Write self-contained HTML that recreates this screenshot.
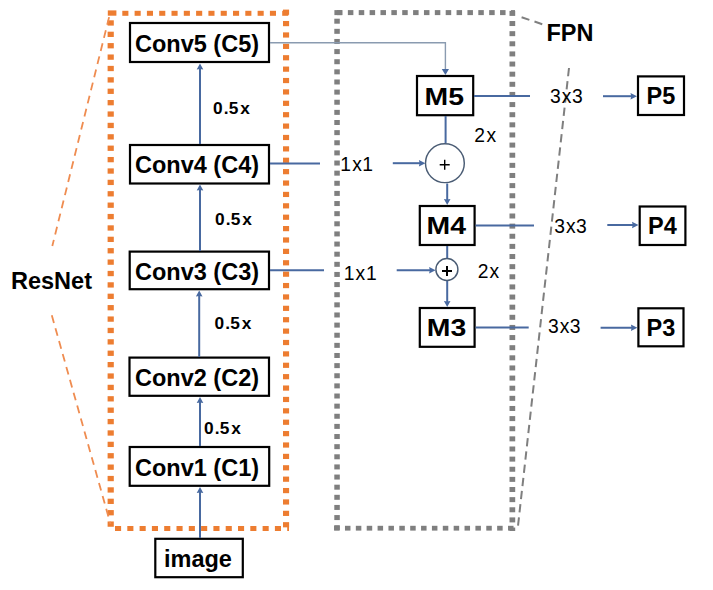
<!DOCTYPE html>
<html><head><meta charset="utf-8"><style>
html,body{margin:0;padding:0;background:#fff;width:713px;height:590px;overflow:hidden}
svg{display:block}
text{font-family:"Liberation Sans",sans-serif;fill:#000}
</style></head><body>
<svg width="713" height="590" viewBox="0 0 713 590">
<rect x="122.30" y="10.80" width="6.10" height="5.00" fill="#ed7d31"/>
<rect x="134.60" y="10.80" width="6.10" height="5.00" fill="#ed7d31"/>
<rect x="146.90" y="10.80" width="6.10" height="5.00" fill="#ed7d31"/>
<rect x="159.20" y="10.80" width="6.10" height="5.00" fill="#ed7d31"/>
<rect x="171.50" y="10.80" width="6.10" height="5.00" fill="#ed7d31"/>
<rect x="183.80" y="10.80" width="6.10" height="5.00" fill="#ed7d31"/>
<rect x="196.10" y="10.80" width="6.10" height="5.00" fill="#ed7d31"/>
<rect x="208.40" y="10.80" width="6.10" height="5.00" fill="#ed7d31"/>
<rect x="220.70" y="10.80" width="6.10" height="5.00" fill="#ed7d31"/>
<rect x="233.00" y="10.80" width="6.10" height="5.00" fill="#ed7d31"/>
<rect x="245.30" y="10.80" width="6.10" height="5.00" fill="#ed7d31"/>
<rect x="257.60" y="10.80" width="6.10" height="5.00" fill="#ed7d31"/>
<rect x="269.90" y="10.80" width="6.10" height="5.00" fill="#ed7d31"/>
<rect x="282.20" y="10.80" width="6.10" height="5.00" fill="#ed7d31"/>
<rect x="115.00" y="526.00" width="6.10" height="5.00" fill="#ed7d31"/>
<rect x="127.30" y="526.00" width="6.10" height="5.00" fill="#ed7d31"/>
<rect x="139.60" y="526.00" width="6.10" height="5.00" fill="#ed7d31"/>
<rect x="151.90" y="526.00" width="6.10" height="5.00" fill="#ed7d31"/>
<rect x="164.20" y="526.00" width="6.10" height="5.00" fill="#ed7d31"/>
<rect x="176.50" y="526.00" width="6.10" height="5.00" fill="#ed7d31"/>
<rect x="188.80" y="526.00" width="6.10" height="5.00" fill="#ed7d31"/>
<rect x="201.10" y="526.00" width="6.10" height="5.00" fill="#ed7d31"/>
<rect x="213.40" y="526.00" width="6.10" height="5.00" fill="#ed7d31"/>
<rect x="225.70" y="526.00" width="6.10" height="5.00" fill="#ed7d31"/>
<rect x="238.00" y="526.00" width="6.10" height="5.00" fill="#ed7d31"/>
<rect x="250.30" y="526.00" width="6.10" height="5.00" fill="#ed7d31"/>
<rect x="262.60" y="526.00" width="6.10" height="5.00" fill="#ed7d31"/>
<rect x="274.90" y="526.00" width="6.10" height="5.00" fill="#ed7d31"/>
<rect x="287.20" y="526.00" width="1.80" height="5.00" fill="#ed7d31"/>
<rect x="107.60" y="20.30" width="6.20" height="5.30" fill="#ed7d31"/>
<rect x="107.60" y="31.69" width="6.20" height="5.30" fill="#ed7d31"/>
<rect x="107.60" y="43.08" width="6.20" height="5.30" fill="#ed7d31"/>
<rect x="107.60" y="54.47" width="6.20" height="5.30" fill="#ed7d31"/>
<rect x="107.60" y="65.86" width="6.20" height="5.30" fill="#ed7d31"/>
<rect x="107.60" y="77.25" width="6.20" height="5.30" fill="#ed7d31"/>
<rect x="107.60" y="88.64" width="6.20" height="5.30" fill="#ed7d31"/>
<rect x="107.60" y="100.03" width="6.20" height="5.30" fill="#ed7d31"/>
<rect x="107.60" y="111.42" width="6.20" height="5.30" fill="#ed7d31"/>
<rect x="107.60" y="122.81" width="6.20" height="5.30" fill="#ed7d31"/>
<rect x="107.60" y="134.20" width="6.20" height="5.30" fill="#ed7d31"/>
<rect x="107.60" y="145.59" width="6.20" height="5.30" fill="#ed7d31"/>
<rect x="107.60" y="156.98" width="6.20" height="5.30" fill="#ed7d31"/>
<rect x="107.60" y="168.37" width="6.20" height="5.30" fill="#ed7d31"/>
<rect x="107.60" y="179.76" width="6.20" height="5.30" fill="#ed7d31"/>
<rect x="107.60" y="191.15" width="6.20" height="5.30" fill="#ed7d31"/>
<rect x="107.60" y="202.54" width="6.20" height="5.30" fill="#ed7d31"/>
<rect x="107.60" y="213.93" width="6.20" height="5.30" fill="#ed7d31"/>
<rect x="107.60" y="225.32" width="6.20" height="5.30" fill="#ed7d31"/>
<rect x="107.60" y="236.71" width="6.20" height="5.30" fill="#ed7d31"/>
<rect x="107.60" y="248.10" width="6.20" height="5.30" fill="#ed7d31"/>
<rect x="107.60" y="259.49" width="6.20" height="5.30" fill="#ed7d31"/>
<rect x="107.60" y="270.88" width="6.20" height="5.30" fill="#ed7d31"/>
<rect x="107.60" y="282.27" width="6.20" height="5.30" fill="#ed7d31"/>
<rect x="107.60" y="293.66" width="6.20" height="5.30" fill="#ed7d31"/>
<rect x="107.60" y="305.05" width="6.20" height="5.30" fill="#ed7d31"/>
<rect x="107.60" y="316.44" width="6.20" height="5.30" fill="#ed7d31"/>
<rect x="107.60" y="327.83" width="6.20" height="5.30" fill="#ed7d31"/>
<rect x="107.60" y="339.22" width="6.20" height="5.30" fill="#ed7d31"/>
<rect x="107.60" y="350.61" width="6.20" height="5.30" fill="#ed7d31"/>
<rect x="107.60" y="362.00" width="6.20" height="5.30" fill="#ed7d31"/>
<rect x="107.60" y="373.39" width="6.20" height="5.30" fill="#ed7d31"/>
<rect x="107.60" y="384.78" width="6.20" height="5.30" fill="#ed7d31"/>
<rect x="107.60" y="396.17" width="6.20" height="5.30" fill="#ed7d31"/>
<rect x="107.60" y="407.56" width="6.20" height="5.30" fill="#ed7d31"/>
<rect x="107.60" y="418.95" width="6.20" height="5.30" fill="#ed7d31"/>
<rect x="107.60" y="430.34" width="6.20" height="5.30" fill="#ed7d31"/>
<rect x="107.60" y="441.73" width="6.20" height="5.30" fill="#ed7d31"/>
<rect x="107.60" y="453.12" width="6.20" height="5.30" fill="#ed7d31"/>
<rect x="107.60" y="464.51" width="6.20" height="5.30" fill="#ed7d31"/>
<rect x="107.60" y="475.90" width="6.20" height="5.30" fill="#ed7d31"/>
<rect x="107.60" y="487.29" width="6.20" height="5.30" fill="#ed7d31"/>
<rect x="107.60" y="498.68" width="6.20" height="5.30" fill="#ed7d31"/>
<rect x="107.60" y="510.07" width="6.20" height="5.30" fill="#ed7d31"/>
<rect x="107.60" y="521.46" width="6.20" height="5.30" fill="#ed7d31"/>
<rect x="107.8" y="10.4" width="8.6" height="5.3" fill="#ed7d31"/>
<rect x="283.00" y="9.60" width="6.10" height="5.20" fill="#ed7d31"/>
<rect x="283.00" y="20.99" width="6.10" height="5.20" fill="#ed7d31"/>
<rect x="283.00" y="32.38" width="6.10" height="5.20" fill="#ed7d31"/>
<rect x="283.00" y="43.77" width="6.10" height="5.20" fill="#ed7d31"/>
<rect x="283.00" y="55.16" width="6.10" height="5.20" fill="#ed7d31"/>
<rect x="283.00" y="66.55" width="6.10" height="5.20" fill="#ed7d31"/>
<rect x="283.00" y="77.94" width="6.10" height="5.20" fill="#ed7d31"/>
<rect x="283.00" y="89.33" width="6.10" height="5.20" fill="#ed7d31"/>
<rect x="283.00" y="100.72" width="6.10" height="5.20" fill="#ed7d31"/>
<rect x="283.00" y="112.11" width="6.10" height="5.20" fill="#ed7d31"/>
<rect x="283.00" y="123.50" width="6.10" height="5.20" fill="#ed7d31"/>
<rect x="283.00" y="134.89" width="6.10" height="5.20" fill="#ed7d31"/>
<rect x="283.00" y="146.28" width="6.10" height="5.20" fill="#ed7d31"/>
<rect x="283.00" y="157.67" width="6.10" height="5.20" fill="#ed7d31"/>
<rect x="283.00" y="169.06" width="6.10" height="5.20" fill="#ed7d31"/>
<rect x="283.00" y="180.45" width="6.10" height="5.20" fill="#ed7d31"/>
<rect x="283.00" y="191.84" width="6.10" height="5.20" fill="#ed7d31"/>
<rect x="283.00" y="203.23" width="6.10" height="5.20" fill="#ed7d31"/>
<rect x="283.00" y="214.62" width="6.10" height="5.20" fill="#ed7d31"/>
<rect x="283.00" y="226.01" width="6.10" height="5.20" fill="#ed7d31"/>
<rect x="283.00" y="237.40" width="6.10" height="5.20" fill="#ed7d31"/>
<rect x="283.00" y="248.79" width="6.10" height="5.20" fill="#ed7d31"/>
<rect x="283.00" y="260.18" width="6.10" height="5.20" fill="#ed7d31"/>
<rect x="283.00" y="271.57" width="6.10" height="5.20" fill="#ed7d31"/>
<rect x="283.00" y="282.96" width="6.10" height="5.20" fill="#ed7d31"/>
<rect x="283.00" y="294.35" width="6.10" height="5.20" fill="#ed7d31"/>
<rect x="283.00" y="305.74" width="6.10" height="5.20" fill="#ed7d31"/>
<rect x="283.00" y="317.13" width="6.10" height="5.20" fill="#ed7d31"/>
<rect x="283.00" y="328.52" width="6.10" height="5.20" fill="#ed7d31"/>
<rect x="283.00" y="339.91" width="6.10" height="5.20" fill="#ed7d31"/>
<rect x="283.00" y="351.30" width="6.10" height="5.20" fill="#ed7d31"/>
<rect x="283.00" y="362.69" width="6.10" height="5.20" fill="#ed7d31"/>
<rect x="283.00" y="374.08" width="6.10" height="5.20" fill="#ed7d31"/>
<rect x="283.00" y="385.47" width="6.10" height="5.20" fill="#ed7d31"/>
<rect x="283.00" y="396.86" width="6.10" height="5.20" fill="#ed7d31"/>
<rect x="283.00" y="408.25" width="6.10" height="5.20" fill="#ed7d31"/>
<rect x="283.00" y="419.64" width="6.10" height="5.20" fill="#ed7d31"/>
<rect x="283.00" y="431.03" width="6.10" height="5.20" fill="#ed7d31"/>
<rect x="283.00" y="442.42" width="6.10" height="5.20" fill="#ed7d31"/>
<rect x="283.00" y="453.81" width="6.10" height="5.20" fill="#ed7d31"/>
<rect x="283.00" y="465.20" width="6.10" height="5.20" fill="#ed7d31"/>
<rect x="283.00" y="476.59" width="6.10" height="5.20" fill="#ed7d31"/>
<rect x="283.00" y="487.98" width="6.10" height="5.20" fill="#ed7d31"/>
<rect x="283.00" y="499.37" width="6.10" height="5.20" fill="#ed7d31"/>
<rect x="283.00" y="510.76" width="6.10" height="5.20" fill="#ed7d31"/>
<rect x="283.00" y="522.15" width="6.10" height="5.20" fill="#ed7d31"/>
<rect x="337.00" y="10.10" width="5.50" height="5.00" fill="#7f7f7f"/>
<rect x="347.87" y="10.10" width="5.50" height="5.00" fill="#7f7f7f"/>
<rect x="358.74" y="10.10" width="5.50" height="5.00" fill="#7f7f7f"/>
<rect x="369.61" y="10.10" width="5.50" height="5.00" fill="#7f7f7f"/>
<rect x="380.48" y="10.10" width="5.50" height="5.00" fill="#7f7f7f"/>
<rect x="391.35" y="10.10" width="5.50" height="5.00" fill="#7f7f7f"/>
<rect x="402.22" y="10.10" width="5.50" height="5.00" fill="#7f7f7f"/>
<rect x="413.09" y="10.10" width="5.50" height="5.00" fill="#7f7f7f"/>
<rect x="423.96" y="10.10" width="5.50" height="5.00" fill="#7f7f7f"/>
<rect x="434.83" y="10.10" width="5.50" height="5.00" fill="#7f7f7f"/>
<rect x="445.70" y="10.10" width="5.50" height="5.00" fill="#7f7f7f"/>
<rect x="456.57" y="10.10" width="5.50" height="5.00" fill="#7f7f7f"/>
<rect x="467.44" y="10.10" width="5.50" height="5.00" fill="#7f7f7f"/>
<rect x="478.31" y="10.10" width="5.50" height="5.00" fill="#7f7f7f"/>
<rect x="489.18" y="10.10" width="5.50" height="5.00" fill="#7f7f7f"/>
<rect x="500.05" y="10.10" width="5.50" height="5.00" fill="#7f7f7f"/>
<rect x="510.92" y="10.10" width="4.08" height="5.00" fill="#7f7f7f"/>
<rect x="334.10" y="525.80" width="5.50" height="4.80" fill="#7f7f7f"/>
<rect x="344.97" y="525.80" width="5.50" height="4.80" fill="#7f7f7f"/>
<rect x="355.84" y="525.80" width="5.50" height="4.80" fill="#7f7f7f"/>
<rect x="366.71" y="525.80" width="5.50" height="4.80" fill="#7f7f7f"/>
<rect x="377.58" y="525.80" width="5.50" height="4.80" fill="#7f7f7f"/>
<rect x="388.45" y="525.80" width="5.50" height="4.80" fill="#7f7f7f"/>
<rect x="399.32" y="525.80" width="5.50" height="4.80" fill="#7f7f7f"/>
<rect x="410.19" y="525.80" width="5.50" height="4.80" fill="#7f7f7f"/>
<rect x="421.06" y="525.80" width="5.50" height="4.80" fill="#7f7f7f"/>
<rect x="431.93" y="525.80" width="5.50" height="4.80" fill="#7f7f7f"/>
<rect x="442.80" y="525.80" width="5.50" height="4.80" fill="#7f7f7f"/>
<rect x="453.67" y="525.80" width="5.50" height="4.80" fill="#7f7f7f"/>
<rect x="464.54" y="525.80" width="5.50" height="4.80" fill="#7f7f7f"/>
<rect x="475.41" y="525.80" width="5.50" height="4.80" fill="#7f7f7f"/>
<rect x="486.28" y="525.80" width="5.50" height="4.80" fill="#7f7f7f"/>
<rect x="497.15" y="525.80" width="5.50" height="4.80" fill="#7f7f7f"/>
<rect x="508.02" y="525.80" width="5.50" height="4.80" fill="#7f7f7f"/>
<rect x="334.30" y="18.70" width="5.50" height="5.00" fill="#7f7f7f"/>
<rect x="334.30" y="28.83" width="5.50" height="5.00" fill="#7f7f7f"/>
<rect x="334.30" y="38.96" width="5.50" height="5.00" fill="#7f7f7f"/>
<rect x="334.30" y="49.09" width="5.50" height="5.00" fill="#7f7f7f"/>
<rect x="334.30" y="59.22" width="5.50" height="5.00" fill="#7f7f7f"/>
<rect x="334.30" y="69.35" width="5.50" height="5.00" fill="#7f7f7f"/>
<rect x="334.30" y="79.48" width="5.50" height="5.00" fill="#7f7f7f"/>
<rect x="334.30" y="89.61" width="5.50" height="5.00" fill="#7f7f7f"/>
<rect x="334.30" y="99.74" width="5.50" height="5.00" fill="#7f7f7f"/>
<rect x="334.30" y="109.87" width="5.50" height="5.00" fill="#7f7f7f"/>
<rect x="334.30" y="120.00" width="5.50" height="5.00" fill="#7f7f7f"/>
<rect x="334.30" y="130.13" width="5.50" height="5.00" fill="#7f7f7f"/>
<rect x="334.30" y="140.26" width="5.50" height="5.00" fill="#7f7f7f"/>
<rect x="334.30" y="150.39" width="5.50" height="5.00" fill="#7f7f7f"/>
<rect x="334.30" y="160.52" width="5.50" height="5.00" fill="#7f7f7f"/>
<rect x="334.30" y="170.65" width="5.50" height="5.00" fill="#7f7f7f"/>
<rect x="334.30" y="180.78" width="5.50" height="5.00" fill="#7f7f7f"/>
<rect x="334.30" y="190.91" width="5.50" height="5.00" fill="#7f7f7f"/>
<rect x="334.30" y="201.04" width="5.50" height="5.00" fill="#7f7f7f"/>
<rect x="334.30" y="211.17" width="5.50" height="5.00" fill="#7f7f7f"/>
<rect x="334.30" y="221.30" width="5.50" height="5.00" fill="#7f7f7f"/>
<rect x="334.30" y="231.43" width="5.50" height="5.00" fill="#7f7f7f"/>
<rect x="334.30" y="241.56" width="5.50" height="5.00" fill="#7f7f7f"/>
<rect x="334.30" y="251.69" width="5.50" height="5.00" fill="#7f7f7f"/>
<rect x="334.30" y="261.82" width="5.50" height="5.00" fill="#7f7f7f"/>
<rect x="334.30" y="271.95" width="5.50" height="5.00" fill="#7f7f7f"/>
<rect x="334.30" y="282.08" width="5.50" height="5.00" fill="#7f7f7f"/>
<rect x="334.30" y="292.21" width="5.50" height="5.00" fill="#7f7f7f"/>
<rect x="334.30" y="302.34" width="5.50" height="5.00" fill="#7f7f7f"/>
<rect x="334.30" y="312.47" width="5.50" height="5.00" fill="#7f7f7f"/>
<rect x="334.30" y="322.60" width="5.50" height="5.00" fill="#7f7f7f"/>
<rect x="334.30" y="332.73" width="5.50" height="5.00" fill="#7f7f7f"/>
<rect x="334.30" y="342.86" width="5.50" height="5.00" fill="#7f7f7f"/>
<rect x="334.30" y="352.99" width="5.50" height="5.00" fill="#7f7f7f"/>
<rect x="334.30" y="363.12" width="5.50" height="5.00" fill="#7f7f7f"/>
<rect x="334.30" y="373.25" width="5.50" height="5.00" fill="#7f7f7f"/>
<rect x="334.30" y="383.38" width="5.50" height="5.00" fill="#7f7f7f"/>
<rect x="334.30" y="393.51" width="5.50" height="5.00" fill="#7f7f7f"/>
<rect x="334.30" y="403.64" width="5.50" height="5.00" fill="#7f7f7f"/>
<rect x="334.30" y="413.77" width="5.50" height="5.00" fill="#7f7f7f"/>
<rect x="334.30" y="423.90" width="5.50" height="5.00" fill="#7f7f7f"/>
<rect x="334.30" y="434.03" width="5.50" height="5.00" fill="#7f7f7f"/>
<rect x="334.30" y="444.16" width="5.50" height="5.00" fill="#7f7f7f"/>
<rect x="334.30" y="454.29" width="5.50" height="5.00" fill="#7f7f7f"/>
<rect x="334.30" y="464.42" width="5.50" height="5.00" fill="#7f7f7f"/>
<rect x="334.30" y="474.55" width="5.50" height="5.00" fill="#7f7f7f"/>
<rect x="334.30" y="484.68" width="5.50" height="5.00" fill="#7f7f7f"/>
<rect x="334.30" y="494.81" width="5.50" height="5.00" fill="#7f7f7f"/>
<rect x="334.30" y="504.94" width="5.50" height="5.00" fill="#7f7f7f"/>
<rect x="334.30" y="515.07" width="5.50" height="5.00" fill="#7f7f7f"/>
<rect x="334.30" y="525.20" width="5.50" height="5.00" fill="#7f7f7f"/>
<rect x="334.4" y="10.1" width="7.5" height="5" fill="#7f7f7f"/>
<rect x="509.50" y="10.90" width="5.70" height="5.00" fill="#7f7f7f"/>
<rect x="509.50" y="21.03" width="5.70" height="5.00" fill="#7f7f7f"/>
<rect x="509.50" y="31.16" width="5.70" height="5.00" fill="#7f7f7f"/>
<rect x="509.50" y="41.29" width="5.70" height="5.00" fill="#7f7f7f"/>
<rect x="509.50" y="51.42" width="5.70" height="5.00" fill="#7f7f7f"/>
<rect x="509.50" y="61.55" width="5.70" height="5.00" fill="#7f7f7f"/>
<rect x="509.50" y="71.68" width="5.70" height="5.00" fill="#7f7f7f"/>
<rect x="509.50" y="81.81" width="5.70" height="5.00" fill="#7f7f7f"/>
<rect x="509.50" y="91.94" width="5.70" height="5.00" fill="#7f7f7f"/>
<rect x="509.50" y="102.07" width="5.70" height="5.00" fill="#7f7f7f"/>
<rect x="509.50" y="112.20" width="5.70" height="5.00" fill="#7f7f7f"/>
<rect x="509.50" y="122.33" width="5.70" height="5.00" fill="#7f7f7f"/>
<rect x="509.50" y="132.46" width="5.70" height="5.00" fill="#7f7f7f"/>
<rect x="509.50" y="142.59" width="5.70" height="5.00" fill="#7f7f7f"/>
<rect x="509.50" y="152.72" width="5.70" height="5.00" fill="#7f7f7f"/>
<rect x="509.50" y="162.85" width="5.70" height="5.00" fill="#7f7f7f"/>
<rect x="509.50" y="172.98" width="5.70" height="5.00" fill="#7f7f7f"/>
<rect x="509.50" y="183.11" width="5.70" height="5.00" fill="#7f7f7f"/>
<rect x="509.50" y="193.24" width="5.70" height="5.00" fill="#7f7f7f"/>
<rect x="509.50" y="203.37" width="5.70" height="5.00" fill="#7f7f7f"/>
<rect x="509.50" y="213.50" width="5.70" height="5.00" fill="#7f7f7f"/>
<rect x="509.50" y="223.63" width="5.70" height="5.00" fill="#7f7f7f"/>
<rect x="509.50" y="233.76" width="5.70" height="5.00" fill="#7f7f7f"/>
<rect x="509.50" y="243.89" width="5.70" height="5.00" fill="#7f7f7f"/>
<rect x="509.50" y="254.02" width="5.70" height="5.00" fill="#7f7f7f"/>
<rect x="509.50" y="264.15" width="5.70" height="5.00" fill="#7f7f7f"/>
<rect x="509.50" y="274.28" width="5.70" height="5.00" fill="#7f7f7f"/>
<rect x="509.50" y="284.41" width="5.70" height="5.00" fill="#7f7f7f"/>
<rect x="509.50" y="294.54" width="5.70" height="5.00" fill="#7f7f7f"/>
<rect x="509.50" y="304.67" width="5.70" height="5.00" fill="#7f7f7f"/>
<rect x="509.50" y="314.80" width="5.70" height="5.00" fill="#7f7f7f"/>
<rect x="509.50" y="324.93" width="5.70" height="5.00" fill="#7f7f7f"/>
<rect x="509.50" y="335.06" width="5.70" height="5.00" fill="#7f7f7f"/>
<rect x="509.50" y="345.19" width="5.70" height="5.00" fill="#7f7f7f"/>
<rect x="509.50" y="355.32" width="5.70" height="5.00" fill="#7f7f7f"/>
<rect x="509.50" y="365.45" width="5.70" height="5.00" fill="#7f7f7f"/>
<rect x="509.50" y="375.58" width="5.70" height="5.00" fill="#7f7f7f"/>
<rect x="509.50" y="385.71" width="5.70" height="5.00" fill="#7f7f7f"/>
<rect x="509.50" y="395.84" width="5.70" height="5.00" fill="#7f7f7f"/>
<rect x="509.50" y="405.97" width="5.70" height="5.00" fill="#7f7f7f"/>
<rect x="509.50" y="416.10" width="5.70" height="5.00" fill="#7f7f7f"/>
<rect x="509.50" y="426.23" width="5.70" height="5.00" fill="#7f7f7f"/>
<rect x="509.50" y="436.36" width="5.70" height="5.00" fill="#7f7f7f"/>
<rect x="509.50" y="446.49" width="5.70" height="5.00" fill="#7f7f7f"/>
<rect x="509.50" y="456.62" width="5.70" height="5.00" fill="#7f7f7f"/>
<rect x="509.50" y="466.75" width="5.70" height="5.00" fill="#7f7f7f"/>
<rect x="509.50" y="476.88" width="5.70" height="5.00" fill="#7f7f7f"/>
<rect x="509.50" y="487.01" width="5.70" height="5.00" fill="#7f7f7f"/>
<rect x="509.50" y="497.14" width="5.70" height="5.00" fill="#7f7f7f"/>
<rect x="509.50" y="507.27" width="5.70" height="5.00" fill="#7f7f7f"/>
<rect x="509.50" y="517.40" width="5.70" height="5.00" fill="#7f7f7f"/>
<rect x="509.50" y="527.53" width="5.70" height="3.47" fill="#7f7f7f"/>
<line x1="109.1" y1="17.1" x2="52.3" y2="246" stroke="#ef8c50" stroke-width="1.8" stroke-dasharray="7.9 5.6"/>
<line x1="51.8" y1="315.3" x2="110.5" y2="524" stroke="#ef8c50" stroke-width="1.8" stroke-dasharray="7.9 5.5"/>
<line x1="521.6" y1="17.2" x2="543.5" y2="24.6" stroke="#7f7f7f" stroke-width="2" stroke-dasharray="8.2 5.4"/>
<line x1="569" y1="68" x2="518" y2="526" stroke="#7f7f7f" stroke-width="2" stroke-dasharray="8.3 5"/>
<rect x="130.00" y="23.00" width="139.00" height="39.00" fill="#fff" stroke="#000" stroke-width="2.2"/>
<rect x="130.00" y="145.00" width="139.00" height="38.50" fill="#fff" stroke="#000" stroke-width="2.2"/>
<rect x="129.70" y="251.60" width="139.30" height="37.60" fill="#fff" stroke="#000" stroke-width="2.2"/>
<rect x="129.50" y="357.60" width="139.50" height="38.20" fill="#fff" stroke="#000" stroke-width="2.2"/>
<rect x="129.70" y="447.00" width="139.50" height="38.80" fill="#fff" stroke="#000" stroke-width="2.2"/>
<rect x="155.30" y="538.80" width="87.50" height="38.40" fill="#fff" stroke="#000" stroke-width="2.2"/>
<rect x="417.00" y="76.00" width="56.20" height="39.20" fill="#fff" stroke="#000" stroke-width="2.2"/>
<rect x="419.80" y="206.00" width="54.80" height="39.00" fill="#fff" stroke="#000" stroke-width="2.2"/>
<rect x="419.80" y="308.00" width="54.80" height="38.80" fill="#fff" stroke="#000" stroke-width="2.2"/>
<rect x="638.00" y="76.40" width="46.00" height="38.60" fill="#fff" stroke="#000" stroke-width="2.2"/>
<rect x="639.70" y="206.50" width="45.70" height="38.50" fill="#fff" stroke="#000" stroke-width="2.2"/>
<rect x="638.40" y="308.30" width="45.10" height="38.00" fill="#fff" stroke="#000" stroke-width="2.2"/>
<line x1="200" y1="144" x2="200" y2="68.5" stroke="#4869a0" stroke-width="2"/>
<path d="M196.7,69.5 L200,63.5 L203.3,69.5 L200,68.9 Z" fill="#4869a0"/>
<line x1="200" y1="251" x2="200" y2="189.5" stroke="#4869a0" stroke-width="2"/>
<path d="M196.7,190.5 L200,184.5 L203.3,190.5 L200,189.9 Z" fill="#4869a0"/>
<line x1="199.2" y1="357" x2="199.2" y2="295.5" stroke="#4869a0" stroke-width="2"/>
<path d="M195.89999999999998,296.5 L199.2,290.5 L202.5,296.5 L199.2,295.9 Z" fill="#4869a0"/>
<line x1="200" y1="446" x2="200" y2="402" stroke="#4869a0" stroke-width="2"/>
<path d="M196.7,403 L200,397 L203.3,403 L200,402.4 Z" fill="#4869a0"/>
<line x1="200" y1="538" x2="200" y2="492" stroke="#4869a0" stroke-width="2"/>
<path d="M196.7,493 L200,487 L203.3,493 L200,492.4 Z" fill="#4869a0"/>
<line x1="270" y1="163.5" x2="320" y2="163.5" stroke="#4869a0" stroke-width="2"/>
<line x1="270" y1="270.3" x2="324" y2="270.3" stroke="#4869a0" stroke-width="2"/>
<line x1="392.8" y1="163.2" x2="420.4" y2="163.2" stroke="#4869a0" stroke-width="2"/>
<path d="M418.9,160.0 L425.4,163.2 L418.9,166.39999999999998 L419.59999999999997,163.2 Z" fill="#4869a0"/>
<line x1="396.7" y1="270.2" x2="430.6" y2="270.2" stroke="#4869a0" stroke-width="2"/>
<path d="M429.1,267.0 L435.6,270.2 L429.1,273.4 L429.8,270.2 Z" fill="#4869a0"/>
<polyline points="270,42.8 445.4,42.8 445.4,70" fill="none" stroke="#8a9bb0" stroke-width="1.4"/>
<path d="M441.8,69 L445.4,75 L449,69 Z" fill="#4869a0"/>
<line x1="445.6" y1="116" x2="445.6" y2="143" stroke="#4869a0" stroke-width="2"/>
<line x1="447.2" y1="183.5" x2="447.2" y2="200" stroke="#4869a0" stroke-width="2"/>
<path d="M443.9,199 L447.2,205 L450.5,199 L447.2,199.6 Z" fill="#4869a0"/>
<line x1="447.2" y1="246" x2="447.2" y2="258.3" stroke="#4869a0" stroke-width="2"/>
<line x1="447.2" y1="281" x2="447.2" y2="302" stroke="#4869a0" stroke-width="2"/>
<path d="M443.9,301 L447.2,307 L450.5,301 L447.2,301.6 Z" fill="#4869a0"/>
<circle cx="444.9" cy="163.2" r="19.4" fill="#fff" stroke="#4a5c74" stroke-width="1.45"/>
<circle cx="446.9" cy="269.5" r="11" fill="#fff" stroke="#4a5c74" stroke-width="1.45"/>
<path d="M439.7,164.8 H449.7 M444.7,159.8 V169.8" stroke="#000" stroke-width="1.4"/>
<path d="M442,271 H452 M447,266 V276" stroke="#000" stroke-width="2"/>
<line x1="474" y1="96" x2="530" y2="96" stroke="#4869a0" stroke-width="2"/>
<line x1="475.6" y1="225.4" x2="534" y2="225.4" stroke="#4869a0" stroke-width="2"/>
<line x1="475.6" y1="327.5" x2="528.7" y2="327.5" stroke="#4869a0" stroke-width="2"/>
<line x1="603" y1="96.2" x2="632" y2="96.2" stroke="#4869a0" stroke-width="2"/>
<path d="M630.5,93.0 L637,96.2 L630.5,99.4 L631.2,96.2 Z" fill="#4869a0"/>
<line x1="607.3" y1="225" x2="633.5" y2="225" stroke="#4869a0" stroke-width="2"/>
<path d="M632.0,221.8 L638.5,225 L632.0,228.2 L632.7,225 Z" fill="#4869a0"/>
<line x1="600.6" y1="327.8" x2="632.4" y2="327.8" stroke="#4869a0" stroke-width="2"/>
<path d="M630.9,324.6 L637.4,327.8 L630.9,331.0 L631.6,327.8 Z" fill="#4869a0"/>
<text x="135" y="51.5" font-size="23.5" font-weight="bold" letter-spacing="0">Conv5 (C5)</text>
<text x="135" y="173.3" font-size="23.5" font-weight="bold" letter-spacing="0">Conv4 (C4)</text>
<text x="135" y="279.5" font-size="23.5" font-weight="bold" letter-spacing="0">Conv3 (C3)</text>
<text x="135" y="385.5" font-size="23.5" font-weight="bold" letter-spacing="0">Conv2 (C2)</text>
<text x="135" y="475.5" font-size="23.5" font-weight="bold" letter-spacing="0">Conv1 (C1)</text>
<text x="164" y="566.7" font-size="23.5" font-weight="bold" letter-spacing="0">image</text>
<text x="11" y="288.8" font-size="23.5" font-weight="bold" letter-spacing="0">ResNet</text>
<text x="546.5" y="40.9" font-size="23.5" font-weight="bold" letter-spacing="0">FPN</text>
<text transform="translate(424.6,104.6) scale(1.21,1)" font-size="23.5" font-weight="bold" letter-spacing="0">M5</text>
<text transform="translate(426.6,233.7) scale(1.21,1)" font-size="23.5" font-weight="bold" letter-spacing="0">M4</text>
<text transform="translate(426.8,335.8) scale(1.21,1)" font-size="23.5" font-weight="bold" letter-spacing="0">M3</text>
<text x="646.5" y="104.3" font-size="23.5" font-weight="bold" letter-spacing="0">P5</text>
<text x="648" y="233.5" font-size="23.5" font-weight="bold" letter-spacing="0">P4</text>
<text x="646.5" y="335.5" font-size="23.5" font-weight="bold" letter-spacing="0">P3</text>
<text x="213.01 223.79 228.78 240.23" y="114" font-size="17.3" font-weight="bold">0.5x</text>
<text x="214.91 225.69 230.68 242.13" y="225" font-size="17.3" font-weight="bold">0.5x</text>
<text x="214.41 225.19 230.18 241.63" y="329" font-size="17.3" font-weight="bold">0.5x</text>
<text x="203.91 214.69 219.68 231.13" y="433.6" font-size="17.3" font-weight="bold">0.5x</text>
<text x="340.16 352.21 362.26" y="170.8" font-size="19.3" font-weight="normal">1x1</text>
<text x="343.86 355.61 365.96" y="280.1" font-size="19.3" font-weight="normal">1x1</text>
<text x="474.14 486.41" y="141.9" font-size="19.3" font-weight="normal">2x</text>
<text x="477.64 489.61" y="277.6" font-size="19.3" font-weight="normal">2x</text>
<text x="549.93 561.81 572.03" y="102.7" font-size="19.3" font-weight="normal">3x3</text>
<text x="554.13 566.11 575.93" y="232.9" font-size="19.3" font-weight="normal">3x3</text>
<text x="547.93 559.81 569.73" y="332.6" font-size="19.3" font-weight="normal">3x3</text>
</svg>
</body></html>
